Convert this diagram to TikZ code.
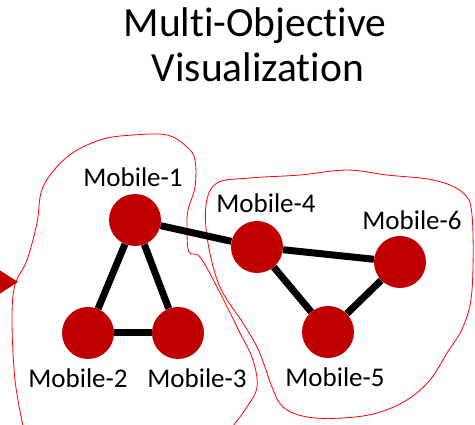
\documentclass[tikz,border=0pt]{standalone}
\usepackage{fontspec}
\setmainfont[Ligatures={NoCommon}]{Carlito}
\begin{document}
\begin{tikzpicture}[x=1pt,y=-1pt,
  mob/.style={circle,fill=nodered,draw=none,minimum size=52pt,inner sep=0pt},
  lbl/.style={anchor=base,font=\fontsize{27}{32}\selectfont,inner sep=0pt},
  ttl/.style={anchor=base,font=\fontsize{41.5}{48}\selectfont,inner sep=0pt},
  link/.style={line width=7pt,black},
  group/.style={draw=outlinered,line width=0.8pt}]
\definecolor{nodered}{HTML}{C00000}
\definecolor{outlinered}{HTML}{FF0000}
\useasboundingbox (0,0) rectangle (475,425);

% title
\node[ttl] (t1) at (255,37) {Multi-Objective};
\node[ttl] (t2) at (258,82) {Visualization};

% incoming arrow head, cut by the left edge
\fill[nodered] (-10,264) -- (18,282) -- (-10,300) -- cycle;

% group outlines
\draw[group] plot[smooth,tension=0.6] coordinates {
  (23,426) (15,380) (12,320) (15,285) (27,260) (37,223) (43,187)
  (67,157) (100,140) (133,135) (167,135) (187,147) (195,160)
  (195,187) (188,210) (187,230) (189,252) (200,257) (217,287)
  (240,333) (253,360) (257,387) (247,407) (233,426)};
\draw[group] plot[smooth cycle,tension=0.6] coordinates {
  (217,183) (250,178) (300,175) (347,170) (387,175) (433,180)
  (462,192) (472,215) (472,290) (463,327) (447,353) (430,380)
  (407,400) (377,413) (343,418) (307,417) (283,407) (272,387)
  (265,367) (257,347) (243,323) (220,287) (208,243) (206,205)};

% mobiles
\node[mob] (m1) at (135,220) {};
\node[mob] (m2) at (88,333) {};
\node[mob] (m3) at (178,333) {};
\node[mob] (m4) at (257,247) {};
\node[mob] (m5) at (328,332) {};
\node[mob] (m6) at (400,262) {};

% links
\draw[link] (m1) -- (m2);
\draw[link] (m1) -- (m3);
\draw[link] (m2) -- (m3);
\draw[link] (m1) -- (m4);
\draw[link] (m4) -- (m6);
\draw[link] (m4) -- (m5);
\draw[link] (m5) -- (m6);

% labels
\node[lbl] (l1) at (133,187) {Mobile-1};
\node[lbl] (l2) at (78,388) {Mobile-2};
\node[lbl] (l3) at (197,388) {Mobile-3};
\node[lbl] (l4) at (266,213) {Mobile-4};
\node[lbl] (l5) at (335,387) {Mobile-5};
\node[lbl] (l6) at (412,230) {Mobile-6};
\end{tikzpicture}
\end{document}
